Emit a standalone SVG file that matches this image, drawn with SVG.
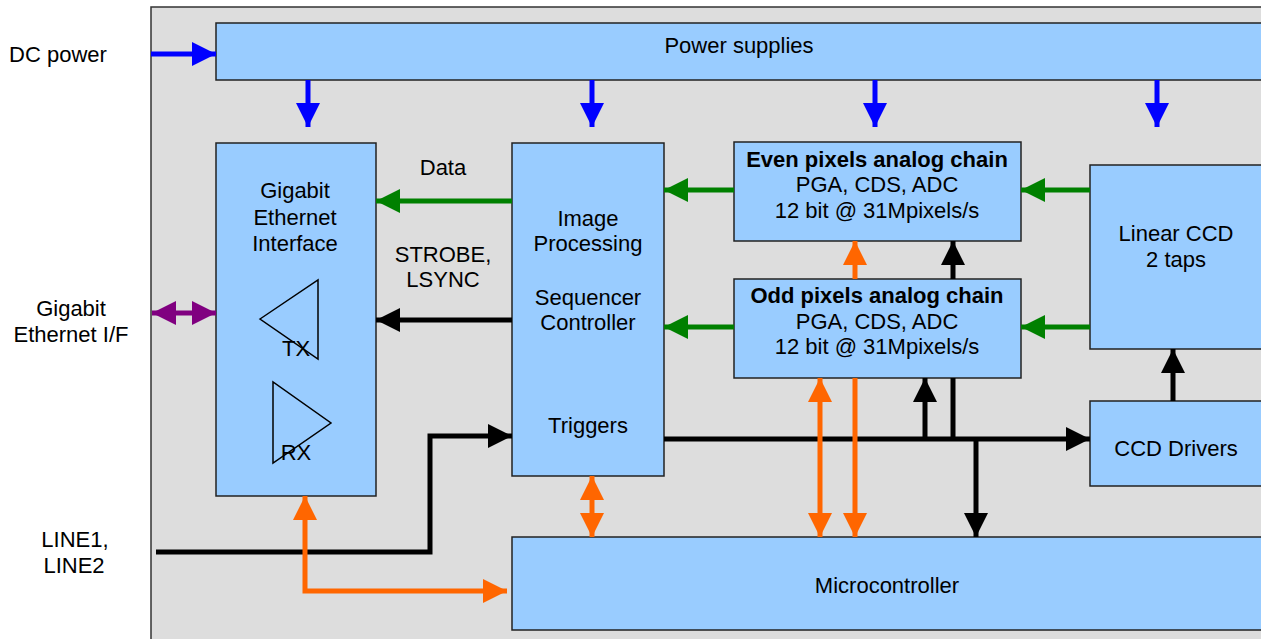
<svg xmlns="http://www.w3.org/2000/svg" width="1261" height="639" viewBox="0 0 1261 639">
<style>
  text { font-family: "Liberation Sans", Arial, sans-serif; font-size: 22px; fill: #000; text-anchor: middle; }
  .b { font-weight: bold; }
  .box { fill: #99CCFF; stroke: #222; stroke-width: 1.5; }
  .tri { fill: none; stroke: #000; stroke-width: 1.5; }
  .c { fill: none; stroke-width: 5; }
  .blue { stroke: #0000FF; }
  .green { stroke: #008000; }
  .black { stroke: #000; }
  .orange { stroke: #FF6600; }
  .purple { stroke: #800080; }
</style>
<defs>
  <marker id="aBlue" markerUnits="userSpaceOnUse" markerWidth="24" markerHeight="24" refX="24" refY="12" orient="auto-start-reverse"><path d="M0,0 L24,12 L0,24 z" fill="#0000FF"/></marker>
  <marker id="aGreen" markerUnits="userSpaceOnUse" markerWidth="24" markerHeight="24" refX="24" refY="12" orient="auto-start-reverse"><path d="M0,0 L24,12 L0,24 z" fill="#008000"/></marker>
  <marker id="aBlack" markerUnits="userSpaceOnUse" markerWidth="24" markerHeight="24" refX="24" refY="12" orient="auto-start-reverse"><path d="M0,0 L24,12 L0,24 z" fill="#000"/></marker>
  <marker id="aOrange" markerUnits="userSpaceOnUse" markerWidth="24" markerHeight="24" refX="24" refY="12" orient="auto-start-reverse"><path d="M0,0 L24,12 L0,24 z" fill="#FF6600"/></marker>
  <marker id="aPurple" markerUnits="userSpaceOnUse" markerWidth="24" markerHeight="24" refX="24" refY="12" orient="auto-start-reverse"><path d="M0,0 L24,12 L0,24 z" fill="#800080"/></marker>
</defs>
<rect x="0" y="0" width="1261" height="639" fill="#fff"/>
<rect id="enclosure" x="151" y="7" width="1130" height="650" fill="#DDDDDD" stroke="#333" stroke-width="1.5"/>

<g id="labels">
  <text x="58" y="62">DC power</text>
  <text x="71" y="316">Gigabit</text>
  <text x="71" y="342">Ethernet I/F</text>
  <text x="75" y="547">LINE1,</text>
  <text x="74" y="573">LINE2</text>
  <text x="443" y="175">Data</text>
  <text x="443" y="262">STROBE,</text>
  <text x="443" y="287">LSYNC</text>
</g>

<g id="power">
  <rect class="box" x="216" y="23" width="1060" height="57"/>
  <text x="739" y="53">Power supplies</text>
</g>
<g id="gige">
  <rect class="box" x="216" y="143" width="160" height="353"/>
  <text x="295" y="198">Gigabit</text>
  <text x="295" y="225">Ethernet</text>
  <text x="295" y="251">Interface</text>
  <polygon class="tri" points="260,319 318,280 318,359"/>
  <text x="296" y="356">TX</text>
  <polygon class="tri" points="273,382 273,463 331,423"/>
  <text x="296" y="460">RX</text>
</g>
<g id="imgproc">
  <rect class="box" x="512" y="143" width="152" height="333"/>
  <text x="588" y="226">Image</text>
  <text x="588" y="251">Processing</text>
  <text x="588" y="305">Sequencer</text>
  <text x="588" y="330">Controller</text>
  <text x="588" y="433">Triggers</text>
</g>
<g id="even">
  <rect class="box" x="734" y="142" width="287" height="99"/>
  <text class="b" x="877" y="167">Even pixels analog chain</text>
  <text x="877" y="192">PGA, CDS, ADC</text>
  <text x="877" y="218">12 bit @ 31Mpixels/s</text>
</g>
<g id="odd">
  <rect class="box" x="734" y="279" width="287" height="99"/>
  <text class="b" x="877" y="303">Odd pixels analog chain</text>
  <text x="877" y="329">PGA, CDS, ADC</text>
  <text x="877" y="354">12 bit @ 31Mpixels/s</text>
</g>
<g id="ccd">
  <rect class="box" x="1090" y="165" width="186" height="184"/>
  <text x="1176" y="241">Linear CCD</text>
  <text x="1176" y="267">2 taps</text>
</g>
<g id="drivers">
  <rect class="box" x="1090" y="401" width="186" height="85"/>
  <text x="1176" y="456">CCD Drivers</text>
</g>
<g id="micro">
  <rect class="box" x="512" y="537" width="764" height="93"/>
  <text x="887" y="593">Microcontroller</text>
</g>

<g id="connectors">
  <line class="c blue" x1="151" y1="54" x2="216" y2="54" marker-end="url(#aBlue)"/>
  <line class="c blue" x1="308" y1="80" x2="308" y2="127" marker-end="url(#aBlue)"/>
  <line class="c blue" x1="592" y1="80" x2="592" y2="127" marker-end="url(#aBlue)"/>
  <line class="c blue" x1="875" y1="80" x2="875" y2="127" marker-end="url(#aBlue)"/>
  <line class="c blue" x1="1157" y1="80" x2="1157" y2="127" marker-end="url(#aBlue)"/>

  <line class="c green" x1="512" y1="201" x2="376" y2="201" marker-end="url(#aGreen)"/>
  <line class="c green" x1="734" y1="190" x2="664" y2="190" marker-end="url(#aGreen)"/>
  <line class="c green" x1="734" y1="327" x2="664" y2="327" marker-end="url(#aGreen)"/>
  <line class="c green" x1="1090" y1="190" x2="1021" y2="190" marker-end="url(#aGreen)"/>
  <line class="c green" x1="1090" y1="327" x2="1021" y2="327" marker-end="url(#aGreen)"/>

  <line class="c black" x1="512" y1="320" x2="376" y2="320" marker-end="url(#aBlack)"/>
  <polyline class="c black" points="156,552 430,552 430,436 512,436" marker-end="url(#aBlack)"/>
  <line class="c black" x1="664" y1="439" x2="1090" y2="439" marker-end="url(#aBlack)"/>
  <line class="c black" x1="925" y1="439" x2="925" y2="378" marker-end="url(#aBlack)"/>
  <line class="c black" x1="953" y1="439" x2="953" y2="378"/>
  <line class="c black" x1="953" y1="279" x2="953" y2="241" marker-end="url(#aBlack)"/>
  <line class="c black" x1="976" y1="439" x2="976" y2="537" marker-end="url(#aBlack)"/>
  <line class="c black" x1="1173" y1="401" x2="1173" y2="349" marker-end="url(#aBlack)"/>

  <line class="c orange" x1="592" y1="476" x2="592" y2="537" marker-start="url(#aOrange)" marker-end="url(#aOrange)"/>
  <line class="c orange" x1="820" y1="378" x2="820" y2="537" marker-start="url(#aOrange)" marker-end="url(#aOrange)"/>
  <line class="c orange" x1="855" y1="279" x2="855" y2="241" marker-end="url(#aOrange)"/>
  <line class="c orange" x1="855" y1="378" x2="855" y2="537" marker-end="url(#aOrange)"/>
  <polyline class="c orange" points="305,496 305,591 507,591" marker-start="url(#aOrange)" marker-end="url(#aOrange)"/>

  <line class="c purple" x1="152" y1="313" x2="216" y2="313" marker-start="url(#aPurple)" marker-end="url(#aPurple)"/>
</g>
</svg>
